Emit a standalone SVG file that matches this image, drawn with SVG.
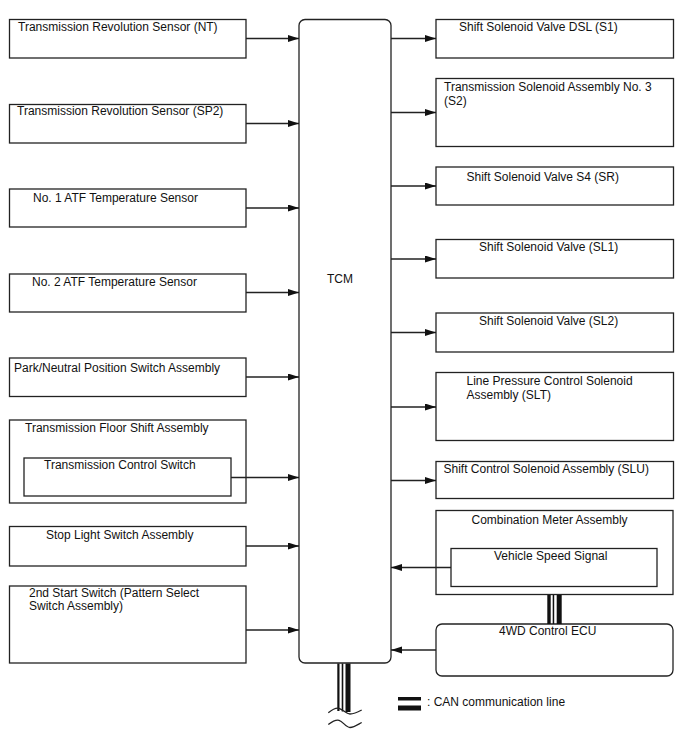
<svg xmlns="http://www.w3.org/2000/svg" width="688" height="755" viewBox="0 0 688 755">
<defs>
<style>
.box{fill:#fff;stroke:#222;stroke-width:1.3}
.ln{fill:none;stroke:#222;stroke-width:1.3}
text{font-family:"Liberation Sans",Arial,sans-serif;font-size:12px;fill:#111}
.can{fill:#111}
</style>
<marker id="ah" markerUnits="userSpaceOnUse" markerWidth="12" markerHeight="8" refX="11" refY="3.5" orient="auto">
<path d="M0,0 L11,3.5 L0,7 z" fill="#111"/>
</marker>
</defs>
<rect width="688" height="755" fill="#fff"/>

<g id="tcm"><rect class="box" x="299" y="19.5" width="92" height="643.5" rx="6"/><text x="327" y="283">TCM</text></g>

<g id="nt"><rect class="box" x="9.5" y="19.5" width="236.5" height="38.5"/><text x="18" y="30.5">Transmission Revolution Sensor (NT)</text></g>
<g id="sp2"><rect class="box" x="9.5" y="104.5" width="236.5" height="38.5"/><text x="17" y="115">Transmission Revolution Sensor (SP2)</text></g>
<g id="atf1"><rect class="box" x="9.5" y="189" width="236.5" height="38"/><text x="33" y="201.5">No. 1 ATF Temperature Sensor</text></g>
<g id="atf2"><rect class="box" x="9.5" y="274" width="236.5" height="38"/><text x="32" y="285.5">No. 2 ATF Temperature Sensor</text></g>
<g id="pn"><rect class="box" x="9.5" y="358" width="236.5" height="38.5"/><text x="14" y="371.5">Park/Neutral Position Switch Assembly</text></g>
<g id="floor"><rect class="box" x="9.5" y="420" width="236.5" height="83"/><text x="25" y="432">Transmission Floor Shift Assembly</text>
<g id="tcs"><rect class="box" x="24" y="458" width="207" height="38"/><text x="44" y="469">Transmission Control Switch</text></g></g>
<g id="stop"><rect class="box" x="9.5" y="526.5" width="236.5" height="39.5"/><text x="46" y="539">Stop Light Switch Assembly</text></g>
<g id="start2"><rect class="box" x="9.5" y="586" width="236.5" height="77"/><text x="29" y="597">2nd Start Switch (Pattern Select</text><text x="29" y="610">Switch Assembly)</text></g>

<g id="s1"><rect class="box" x="436" y="19.5" width="237.5" height="38.5"/><text x="459" y="30.5">Shift Solenoid Valve DSL (S1)</text></g>
<g id="s2"><rect class="box" x="436" y="78.5" width="237.5" height="68"/><text x="444" y="90.5">Transmission Solenoid Assembly No. 3</text><text x="444" y="104.5">(S2)</text></g>
<g id="sr"><rect class="box" x="436" y="167" width="237.5" height="38"/><text x="466.5" y="180.5">Shift Solenoid Valve S4 (SR)</text></g>
<g id="sl1"><rect class="box" x="436" y="239.5" width="237.5" height="38.5"/><text x="479" y="251">Shift Solenoid Valve (SL1)</text></g>
<g id="sl2"><rect class="box" x="436" y="313" width="237.5" height="39"/><text x="479" y="324.5">Shift Solenoid Valve (SL2)</text></g>
<g id="slt"><rect class="box" x="436" y="372.5" width="237.5" height="68"/><text x="466.5" y="385">Line Pressure Control Solenoid</text><text x="466.5" y="398.5">Assembly (SLT)</text></g>
<g id="slu"><rect class="box" x="436" y="461.5" width="237.5" height="37"/><text x="443.5" y="473">Shift Control Solenoid Assembly (SLU)</text></g>
<g id="meter"><rect class="box" x="436" y="510.5" width="237" height="84"/><text x="471.5" y="524">Combination Meter Assembly</text>
<g id="vss"><rect class="box" x="451" y="548.5" width="206" height="38"/><text x="494" y="560">Vehicle Speed Signal</text></g></g>
<g id="ecu4wd"><rect class="box" x="436" y="624" width="237" height="52" rx="6"/><text x="499" y="635">4WD Control ECU</text></g>

<g id="connectors">
<line class="ln" x1="246" y1="38.5" x2="299" y2="38.5" marker-end="url(#ah)"/>
<line class="ln" x1="246" y1="123.5" x2="299" y2="123.5" marker-end="url(#ah)"/>
<line class="ln" x1="246" y1="208" x2="299" y2="208" marker-end="url(#ah)"/>
<line class="ln" x1="246" y1="292.5" x2="299" y2="292.5" marker-end="url(#ah)"/>
<line class="ln" x1="246" y1="377" x2="299" y2="377" marker-end="url(#ah)"/>
<line class="ln" x1="231" y1="477.5" x2="299" y2="477.5" marker-end="url(#ah)"/>
<line class="ln" x1="246" y1="546" x2="299" y2="546" marker-end="url(#ah)"/>
<line class="ln" x1="246" y1="630" x2="299" y2="630" marker-end="url(#ah)"/>
<line class="ln" x1="391" y1="38.5" x2="436" y2="38.5" marker-end="url(#ah)"/>
<line class="ln" x1="391" y1="112.5" x2="436" y2="112.5" marker-end="url(#ah)"/>
<line class="ln" x1="391" y1="186" x2="436" y2="186" marker-end="url(#ah)"/>
<line class="ln" x1="391" y1="259" x2="436" y2="259" marker-end="url(#ah)"/>
<line class="ln" x1="391" y1="332.5" x2="436" y2="332.5" marker-end="url(#ah)"/>
<line class="ln" x1="391" y1="407" x2="436" y2="407" marker-end="url(#ah)"/>
<line class="ln" x1="391" y1="480.5" x2="436" y2="480.5" marker-end="url(#ah)"/>
<line class="ln" x1="451" y1="567.5" x2="391" y2="567.5" marker-end="url(#ah)"/>
<line class="ln" x1="436" y1="650" x2="391" y2="650" marker-end="url(#ah)"/>
<g id="can-meter-4wd">
<rect class="can" x="547.3" y="595" width="3.4" height="29"/>
<rect class="can" x="552.7" y="595" width="1.5" height="29"/>
<rect class="can" x="556.7" y="595" width="5" height="29"/>
</g>
<g id="can-tcm">
<rect class="can" x="337.3" y="663.5" width="2.2" height="47.5"/>
<rect class="can" x="341.7" y="663.5" width="1.6" height="48"/>
<rect class="can" x="345.5" y="663.5" width="5" height="48.5"/>
<path class="ln" d="M328.3,712.7 C333,709 336,707.5 339,708.3 C343,709.5 346,714 350,714 C354,714 358,712 361.7,710"/>
<path class="ln" d="M328.3,724.5 C333,721 336,719.5 339,720.3 C343,721.5 346,727.5 350,727.5 C354,727.5 358,724.5 361.7,722.5"/>
</g>
</g>

<g id="legend">
<rect class="can" x="398" y="697" width="23" height="3.5"/>
<rect class="can" x="398" y="705.5" width="23" height="5"/>
<text x="427" y="706">: CAN communication line</text>
</g>
</svg>
